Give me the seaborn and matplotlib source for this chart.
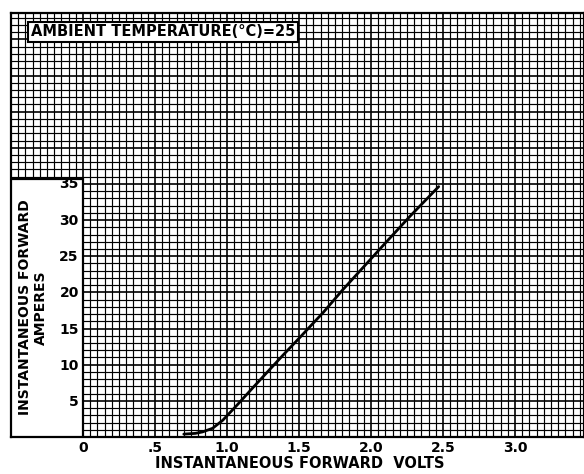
#!/usr/bin/env python3
'''
Forward characteristic of a rectifier diode, drawn on a fine
graph-paper style grid like the scanned datasheet.
'''
import seaborn as sns
import matplotlib.pyplot as plt
from matplotlib.ticker import MultipleLocator
from matplotlib.patches import Rectangle
import pandas as pd

# curve
volts = [0.70, 0.78, 0.83, 0.90, 0.97, 1.07, 1.18, 1.25, 1.39, 1.51,
         1.67, 1.80, 2.08, 2.27, 2.47]
amperes = [0.4, 0.5, 0.7, 1.2, 2.3, 4.4, 6.8, 8.3, 11.3, 13.8,
           17.2, 20.2, 26.3, 30.4, 34.5]
x_ticks = [0, 0.5, 1.0, 1.5, 2.0, 2.5, 3.0]
x_labels = ['0', '.5', '1.0', '1.5', '2.0', '2.5', '3.0']
y_ticks = [5, 10, 15, 20, 25, 30, 35]
y_labels = ['5', '10', '15', '20', '25', '30', '35']
title = 'AMBIENT TEMPERATURE(°C)=25'

W, H = 584, 474
PX_V = 144.0   # pixels per volt
PX_A = 7.23    # pixels per ampere

sns.set_style('white')
plt.rcParams['font.family'] = ['DejaVu Sans']
plt.rcParams['text.color'] = 'black'
plt.rcParams['axes.labelcolor'] = 'black'
plt.rcParams['xtick.color'] = 'black'
plt.rcParams['ytick.color'] = 'black'

fig = plt.figure(figsize=(W / 100, H / 100), dpi=100)

# graph paper
gx0, gx1, gy0, gy1 = 11, 584, 13, 437
bg = fig.add_axes([gx0 / W, (H - gy1) / H, (gx1 - gx0) / W, (gy1 - gy0) / H])
bg.set_xlim(-0.5, -0.5 + (gx1 - gx0) / PX_V)
bg.set_ylim(0, (gy1 - gy0) / PX_A)
bg.xaxis.set_minor_locator(MultipleLocator(0.05))
bg.yaxis.set_minor_locator(MultipleLocator(1))
bg.xaxis.set_major_locator(MultipleLocator(0.5))
bg.yaxis.set_major_locator(MultipleLocator(5))
bg.grid(which='minor', color='black', lw=0.85)
bg.grid(which='major', color='black', lw=1.2)
bg.tick_params(which='both', length=0, labelbottom=False, labelleft=False)
for s in bg.spines.values():
    s.set_color('black')
    s.set_linewidth(1.6)
bg.add_patch(Rectangle((-0.5, 0), 0.5, 35.7, facecolor='white',
                       edgecolor='black', lw=1.6, zorder=3))

# data axes over the lower right part of the paper
ax = fig.add_axes([83 / W, (H - gy1) / H, (gx1 - 83) / W, (gy1 - 183) / H])
ax.patch.set_alpha(0)
df = pd.DataFrame({'volts': volts, 'amperes': amperes})
sns.lineplot(x='volts', y='amperes', data=df, color='black', lw=2.0,
             ax=ax, zorder=5)
ax.set_xlim(0, (gx1 - 83) / PX_V)
ax.set_ylim(0, 35)
ax.set_xticks(x_ticks, x_labels)
ax.set_yticks(y_ticks, y_labels)
ax.tick_params(length=0, labelsize=10, pad=3)
for lab in ax.get_xticklabels() + ax.get_yticklabels():
    lab.set_fontweight('bold')
for s in ax.spines.values():
    s.set_visible(False)
ax.set_xlabel('INSTANTANEOUS FORWARD  VOLTS', fontsize=10.5,
              fontweight='bold')
ax.xaxis.set_label_coords(0.433, -0.075)
ax.set_ylabel('INSTANTANEOUS FORWARD\nAMPERES', fontsize=10,
              fontweight='bold', multialignment='center')
ax.yaxis.set_label_coords(-0.07, 0.51)

fig.text(31 / W, 1 - 32 / H, title, fontsize=10.5, fontweight='bold',
         va='center', ha='left',
         bbox=dict(facecolor='white', edgecolor='black', lw=1.5,
                   boxstyle='square,pad=0.2'))

fig.savefig('out.png', dpi=100)
